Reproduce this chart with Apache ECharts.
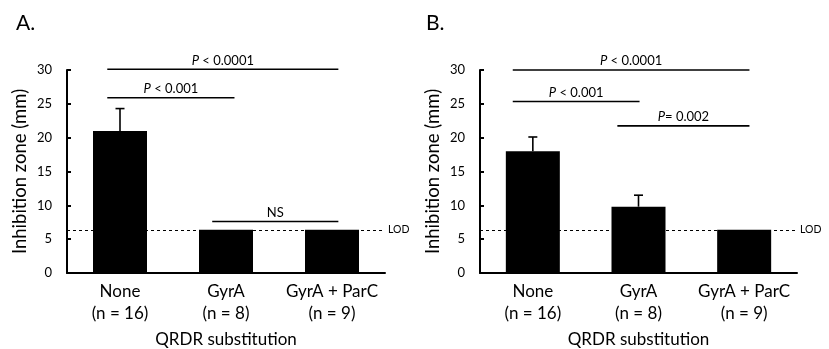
<!DOCTYPE html>
<html>
<head>
<meta charset="utf-8">
<script src="https://cdn.jsdelivr.net/npm/echarts@6/dist/echarts.min.js"></script>
<style>
  html, body { margin: 0; padding: 0; background: #fff; }
  #chart { width: 829px; height: 349px; }
</style>
</head>
<body>
<div id="chart"></div>
<script>
const categories = ["None\n(n = 16)", "GyrA\n(n = 8)", "GyrA + ParC\n(n = 9)"];

// panel A: mean inhibition zone (mm) and top of error bar
const meanA = [21.0, 6.4, 6.4];
const upperA = [24.3, null, null];
// panel B
const meanB = [18.0, 9.8, 6.4];
const upperB = [20.1, 11.5, null];

const lod = 6.35;

// significance brackets, x in category units (0 = first category centre)
const sigFromA = [-0.12, -0.12, 0.87];
const sigToA = [2.06, 1.08, 2.06];
const sigLevelA = [30.1, 25.9, 7.6];
const sigTextA = ["{i|P} < 0.0001", "{i|P} < 0.001", "NS"];

const sigFromB = [-0.19, -0.19, 0.8];
const sigToB = [2.05, 1.01, 2.05];
const sigLevelB = [30.0, 25.35, 21.75];
const sigTextB = ["{i|P} < 0.0001", "{i|P} < 0.001", "{i|P}= 0.002"];

const FONT = "Lato, 'Liberation Sans', sans-serif";

const chart = echarts.init(document.getElementById("chart"));

function bracketRenderer(texts) {
  return function (params, api) {
    const a = api.coord([api.value(0), api.value(2)]);
    const b = api.coord([api.value(1), api.value(2)]);
    return {
      type: "group",
      children: [
        {
          type: "line",
          shape: { x1: a[0], y1: a[1], x2: b[0], y2: b[1] },
          style: { stroke: "#000", lineWidth: 1.6 }
        },
        {
          type: "text",
          style: {
            text: texts[params.dataIndex],
            x: (a[0] + b[0]) / 2,
            y: a[1] - 9,
            align: "center",
            verticalAlign: "middle",
            fill: "#000",
            font: "13px " + FONT,
            rich: { i: { fontStyle: "italic", fontSize: 13, fontFamily: FONT, fill: "#000" } }
          }
        }
      ]
    };
  };
}

function errorRenderer(params, api) {
  const base = api.coord([api.value(0), api.value(1)]);
  const top = api.coord([api.value(0), api.value(2)]);
  return {
    type: "group",
    children: [
      { type: "line", shape: { x1: base[0], y1: base[1], x2: top[0], y2: top[1] }, style: { stroke: "#000", lineWidth: 1.6 } },
      { type: "line", shape: { x1: top[0] - 4.5, y1: top[1], x2: top[0] + 4.5, y2: top[1] }, style: { stroke: "#000", lineWidth: 1.6 } }
    ]
  };
}

function zip(from, to, level) {
  return from.map((f, i) => [f, to[i], level[i]]);
}
function errData(mean, upper) {
  const out = [];
  mean.forEach((m, i) => { if (upper[i] != null) out.push([i, m, upper[i]]); });
  return out;
}

const grids = [
  { left: 67, top: 70, width: 318, height: 203, outerBoundsMode: "none", containLabel: false },
  { left: 480, top: 70, width: 317, height: 203, outerBoundsMode: "none", containLabel: false }
];

function catAxis(gi) {
  return {
    type: "category",
    gridIndex: gi,
    data: categories,
    axisLine: { onZero: false, lineStyle: { color: "#000", width: 2 } },
    axisTick: { inside: true, length: 5, lineStyle: { color: "#000", width: 2 } },
    axisLabel: { interval: 0, color: "#000", fontSize: 17, fontFamily: FONT, lineHeight: 22, margin: 8 },
    name: "QRDR substitution",
    nameLocation: "middle",
    nameGap: 58,
    nameTextStyle: { color: "#000", fontSize: 17, fontFamily: FONT }
  };
}
function hiddenX(gi) {
  return { type: "value", gridIndex: gi, min: -0.5, max: 2.5, show: false };
}
function yAxis(gi, gap) {
  return {
    type: "value",
    gridIndex: gi,
    min: 0,
    max: 30,
    interval: 5,
    splitLine: { show: false },
    axisLine: { show: true, onZero: false, lineStyle: { color: "#000", width: 2 } },
    axisTick: { show: true, inside: true, length: 4, lineStyle: { color: "#000", width: 2 } },
    axisLabel: { color: "#000", fontSize: 13, fontFamily: FONT, margin: 15 },
    name: "Inhibition zone (mm)",
    nameLocation: "middle",
    nameGap: gap,
    nameTextStyle: { color: "#000", fontSize: 18.5, fontFamily: FONT }
  };
}

function barSeries(gi, data) {
  return {
    type: "bar",
    xAxisIndex: gi * 2,
    yAxisIndex: gi,
    data: data,
    barWidth: 54,
    itemStyle: { color: "#000" },
    markLine: {
      silent: true,
      symbol: "none",
      lineStyle: { color: "#000", width: 1, type: [3, 3] },
      label: { position: "end", formatter: "LOD", color: "#000", fontSize: 10.5, fontFamily: FONT, distance: 3 },
      data: [{ yAxis: lod }]
    }
  };
}

chart.setOption({
  animation: false,
  title: [
    { text: "A.", left: 11, top: 8, textStyle: { fontSize: 21, fontWeight: "normal", color: "#000", fontFamily: FONT } },
    { text: "B.", left: 421, top: 8, textStyle: { fontSize: 21, fontWeight: "normal", color: "#000", fontFamily: FONT } }
  ],
  grid: grids,
  xAxis: [catAxis(0), hiddenX(0), catAxis(1), hiddenX(1)],
  yAxis: [yAxis(0, 37), yAxis(1, 37)],
  series: [
    barSeries(0, meanA),
    barSeries(1, meanB),
    { type: "custom", xAxisIndex: 0, yAxisIndex: 0, renderItem: errorRenderer, data: errData(meanA, upperA), z: 3 },
    { type: "custom", xAxisIndex: 2, yAxisIndex: 1, renderItem: errorRenderer, data: errData(meanB, upperB), z: 3 },
    { type: "custom", xAxisIndex: 1, yAxisIndex: 0, renderItem: bracketRenderer(sigTextA), data: zip(sigFromA, sigToA, sigLevelA), z: 4 },
    { type: "custom", xAxisIndex: 3, yAxisIndex: 1, renderItem: bracketRenderer(sigTextB), data: zip(sigFromB, sigToB, sigLevelB), z: 4 }
  ]
});
</script>
</body>
</html>
